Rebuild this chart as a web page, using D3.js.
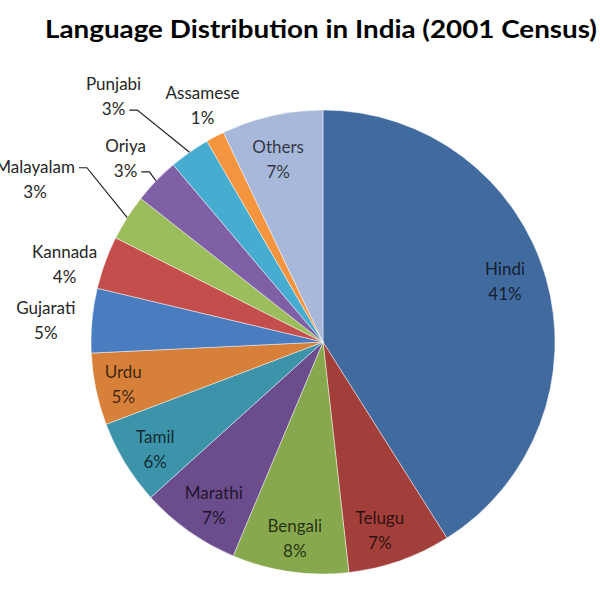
<!DOCTYPE html>
<html lang="en">

<head>
    <meta charset="UTF-8">
    <title>Language Distribution in India (2001 Census)</title>
    <style>
        body {
            padding: 0;
            margin: 0;
            width: 600px;
            height: 600px;
            background: #fff;
        }
    </style>
</head>

<body>
    <script src="https://d3js.org/d3.v7.min.js"></script>
    <script>
        // data (clockwise from 12 o'clock)
        const languages = ['Hindi', 'Telugu', 'Bengali', 'Marathi', 'Tamil', 'Urdu', 'Gujarati',
            'Kannada', 'Malayalam', 'Oriya', 'Punjabi', 'Assamese', 'Others']
        const shares = [41.03, 7.19, 8.11, 6.99, 5.91, 5.01, 4.48, 3.69, 3.21, 3.21, 2.83, 1.28, 7.06]
        const percentLabels = ['41%', '7%', '8%', '7%', '6%', '5%', '5%', '4%', '3%', '3%', '3%', '1%', '7%']

        const width = 600
        const height = 600
        const cx = 323, cy = 342, R = 232

        const svg = d3.select('body')
            .append('svg')
            .attr('width', width)
            .attr('height', height)

        // title
        svg.append('text')
            .attr('x', 321)
            .attr('y', 38)
            .attr('text-anchor', 'middle')
            .attr('font-family', 'Lato, sans-serif')
            .attr('font-weight', 'bold')
            .attr('font-size', 24)
            .attr('textLength', 552)
            .attr('lengthAdjust', 'spacingAndGlyphs')
            .attr('fill', '#000')
            .text('Language Distribution in India (2001 Census)')

        // excel-like colours
        const color = d3.scaleOrdinal()
            .domain(languages)
            .range(['#416a9f', '#a33f3b', '#87a84c', '#6b4c8c', '#3d93aa', '#d6803a', '#4a7cc0',
                '#c44e4b', '#9bbd5b', '#7f60a6', '#46acd0', '#f5953f', '#a7b8da'])

        const data = languages.map((d, i) => ({ name: d, value: shares[i], pct: percentLabels[i] }))

        const pie = d3.pie().sort(null).value(d => d.value)
        const arcs = pie(data)
        const arc = d3.arc().innerRadius(0).outerRadius(R)

        const g = svg.append('g').attr('transform', `translate(${cx},${cy})`)

        g.selectAll('path')
            .data(arcs)
            .join('path')
            .attr('d', arc)
            .attr('fill', d => color(d.data.name))
            .attr('stroke', '#ffffff')
            .attr('stroke-opacity', 0.45)
            .attr('stroke-width', 1)

        // label placement: radius + angle nudge (deg), like labels dragged around in excel
        const inside = ['Hindi', 'Telugu', 'Bengali', 'Marathi', 'Tamil', 'Urdu', 'Others']
        const place = {
            Hindi: { r: 192, da: -2.4 },
            Telugu: { r: 196, da: 2.5 },
            Bengali: { r: 198, da: 0 },
            Marathi: { r: 196, da: -1.5 },
            Tamil: { r: 199, da: -1.1 },
            Urdu: { r: 204, da: 0 },
            Gujarati: { r: 278, da: -0.8 },
            Kannada: { r: 270, da: -3.2 },
            Malayalam: { r: 331, da: -2.9, lead: 0 },
            Oriya: { r: 270, da: -1, lead: 1 },
            Punjabi: { r: 323, da: -5.3, lead: 1 },
            Assamese: { r: 266, da: 0.8 },
            Others: { r: 188, da: -1.1 }
        }
        const deg = Math.PI / 180
        const lineY = [-6, 19]

        const labels = g.selectAll('g.label')
            .data(arcs)
            .join('g')
            .attr('class', 'label')
            .each(function (d) {
                const p = place[d.data.name]
                const a = (d.startAngle + d.endAngle) / 2 + p.da * deg
                d.lx = p.r * Math.sin(a)
                d.ly = -p.r * Math.cos(a)
                d.isIn = inside.includes(d.data.name)
            })
            .attr('transform', d => `translate(${d.lx},${d.ly})`)

        labels.append('text')
            .attr('text-anchor', 'middle')
            .attr('font-family', 'Lato, sans-serif')
            .attr('font-size', 17)
            .attr('fill', d => d.isIn ? '#000' : '#262626')
            .attr('fill-opacity', d => d.isIn ? 0.72 : 1)
            .selectAll('tspan')
            .data(d => [d.data.name, d.data.pct])
            .join('tspan')
            .attr('x', 0)
            .attr('y', (t, i) => lineY[i])
            .text(t => t)

        // leader lines
        labels.each(function (d) {
            const p = place[d.data.name]
            if (p.lead === undefined) return
            const tspan = d3.select(this).selectAll('tspan').nodes()[p.lead]
            const w = tspan.getComputedTextLength()
            const x0 = d.lx + w / 2 + 4
            const y0 = d.ly + lineY[p.lead] - 5
            const a = (d.startAngle + d.endAngle) / 2
            const ex = R * Math.sin(a)
            const ey = -R * Math.cos(a)
            g.append('path')
                .attr('d', d3.line()([[x0, y0], [x0 + 8, y0], [ex, ey]]))
                .attr('fill', 'none')
                .attr('stroke', '#222')
                .attr('stroke-width', 1.2)
        })
    </script>

</body>

</html>
